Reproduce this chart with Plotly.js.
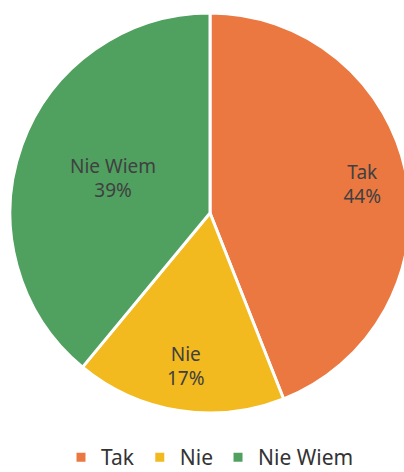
<!DOCTYPE html>
<html>
<head>
<meta charset="utf-8">
<script src="https://cdn.plot.ly/plotly-3.0.1.min.js"></script>
<style>
html,body{margin:0;padding:0;background:#fff;overflow:hidden;}
#chart{width:420px;height:472px;}
</style>
</head>
<body>
<div id="chart"></div>
<script>
const categories = ["Tak", "Nie", "Nie Wiem"];
const values = [44, 17, 39];
const colors = ["#EA7840", "#F2BA1E", "#50A060"];

const base = {
  type: "pie",
  labels: categories,
  values: values,
  sort: false,
  direction: "clockwise",
  rotation: 0,
  hoverinfo: "none",
  texttemplate: "%{label}<br>%{percent:.0%}",
  insidetextorientation: "horizontal",
  textfont: { family: "Noto Sans", size: 19, color: "#404040" }
};

const data = [
  Object.assign({}, base, {
    marker: { colors: colors, line: { color: "#ffffff", width: 3 } },
    textposition: ["none", "none", "inside"]
  }),
  Object.assign({}, base, {
    hole: 0.55,
    showlegend: false,
    marker: { colors: ["rgba(0,0,0,0)", "rgba(0,0,0,0)", "rgba(0,0,0,0)"], line: { width: 0 } },
    textposition: ["inside", "inside", "none"]
  })
];

const layout = {
  width: 420,
  height: 472,
  margin: { l: 10, r: 10, t: 13, b: 59, autoexpand: false },
  paper_bgcolor: "#ffffff",
  showlegend: true,
  legend: {
    orientation: "h",
    x: 0.5, xanchor: "center",
    y: -0.06, yanchor: "top",
    font: { family: "Noto Sans", size: 21, color: "#333333" },
    itemwidth: 30
  }
};

Plotly.newPlot("chart", data, layout, { displayModeBar: false, staticPlot: true });
</script>
</body>
</html>
